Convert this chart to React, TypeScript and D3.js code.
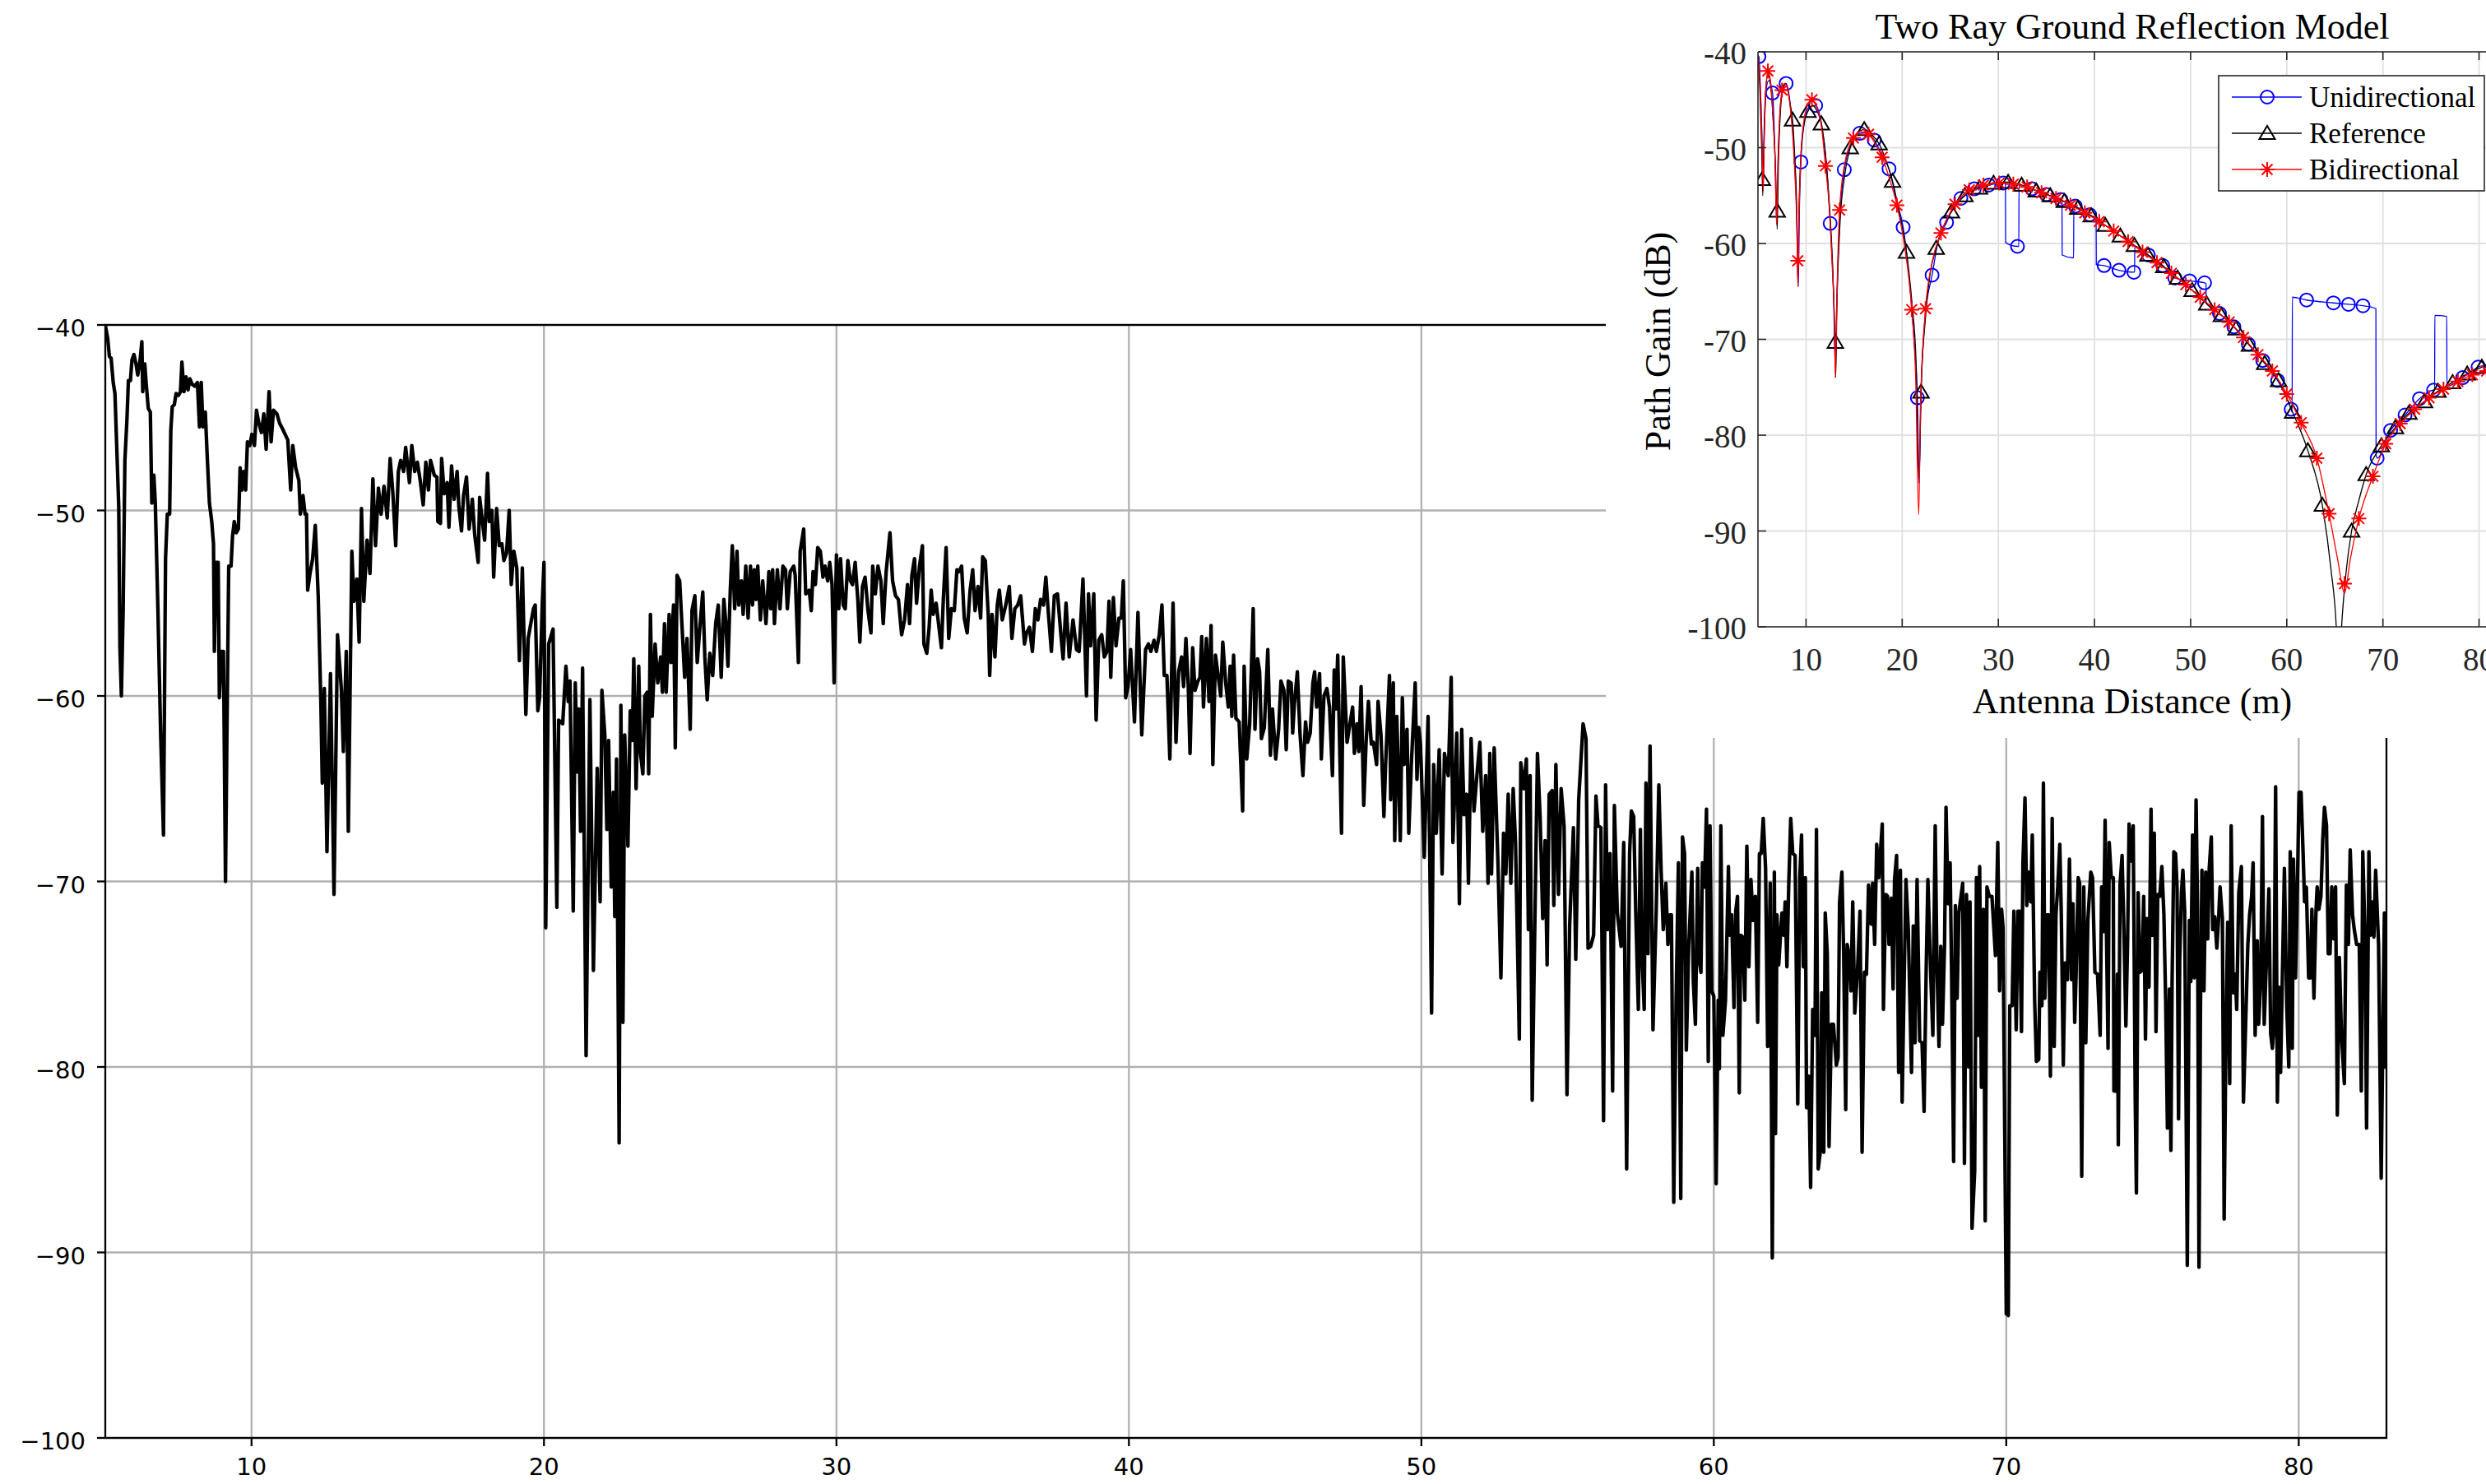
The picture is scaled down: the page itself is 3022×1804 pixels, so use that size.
import React from "react";
import * as d3 from "d3";

const SEG_05_13: [number, number][] = [
  [5.0,-40],[5.08,-40.7],[5.14,-41.7],[5.2,-41.8],[5.27,-43.1],[5.33,-43.7],[5.39,-46.5],[5.46,-49.8],[5.5,-57.4],[5.55,-60],
  [5.61,-55.4],[5.67,-47.3],[5.74,-45.1],[5.79,-43],[5.86,-43],[5.91,-41.9],[5.98,-41.6],[6.05,-42.1],[6.11,-42.7],[6.19,-41.9],
  [6.25,-40.9],[6.28,-43.6],[6.35,-42.1],[6.4,-43.2],[6.47,-44.5],[6.54,-44.7],[6.59,-49.6],[6.66,-48.1],[6.71,-49.6],[6.8,-55.4],
  [6.89,-61.9],[6.99,-67.5],[7.06,-52.6],[7.12,-50.2],[7.2,-50.2],[7.24,-45.7],[7.29,-44.4],[7.36,-44.3],[7.42,-43.7],[7.5,-43.8],
  [7.57,-43.6],[7.62,-42],[7.69,-43.6],[7.76,-42.8],[7.83,-43.5],[7.89,-42.9],[7.97,-43.2],[8.06,-43.3],[8.15,-43.1],[8.22,-45.5],
  [8.28,-43.1],[8.34,-45.5],[8.42,-44.7],[8.48,-46.9],[8.56,-49.6],[8.64,-50.6],[8.7,-51.8],[8.73,-57.6],[8.79,-52.8],[8.86,-52.8],
  [8.9,-60.1],[8.98,-57.6],[9.04,-57.6],[9.11,-70],[9.16,-61.9],[9.22,-53],[9.3,-53],[9.35,-51.4],[9.41,-50.6],[9.48,-51.2],
  [9.55,-51],[9.61,-47.7],[9.67,-48.9],[9.73,-47.9],[9.8,-48.9],[9.86,-46.3],[9.94,-46.5],[10.01,-45.9],[10.1,-46.5],[10.17,-44.6],
  [10.25,-45.3],[10.34,-45.8],[10.42,-44.8],[10.5,-46.7],[10.6,-43.6],[10.67,-46.3],[10.75,-44.6],[10.87,-44.8],[10.96,-45.3],[11.06,-45.6],
  [11.15,-45.9],[11.24,-46.2],[11.34,-48.9],[11.41,-46.5],[11.51,-47.7],[11.62,-48.4],[11.67,-50.2],[11.76,-49.2],[11.83,-50.2],[11.88,-50.2],
  [11.92,-54.3],[12.0,-53.4],[12.09,-52.6],[12.18,-50.8],[12.28,-54.6],[12.37,-60.3],[12.42,-64.7],[12.49,-59.6],[12.58,-68.4],[12.7,-58.8],
  [12.82,-70.7],
];
const SEG_13_20: [number, number][] = [
  [12.94,-56.7],[13.07,-59.6],[13.14,-63],[13.24,-57.6],[13.31,-67.3],[13.43,-52.2],[13.5,-54.9],[13.6,-53.7],[13.68,-57.1],[13.76,-49.9],
  [13.84,-54.9],[13.95,-51.6],[14.05,-53.4],[14.15,-48.3],[14.24,-51.9],[14.34,-48.8],[14.43,-50.2],[14.53,-48.7],[14.64,-50.4],[14.74,-47.2],
  [14.83,-49],[14.93,-51.9],[15.02,-47.9],[15.1,-47.3],[15.2,-47.9],[15.27,-46.6],[15.4,-48.5],[15.48,-46.5],[15.58,-47.9],[15.67,-47.4],
  [15.77,-48.4],[15.87,-49.7],[15.96,-47.4],[16.05,-48.9],[16.12,-47.3],[16.25,-48.1],[16.34,-48.2],[16.37,-50.6],[16.46,-50.7],[16.5,-47.2],
  [16.59,-49.1],[16.69,-48.5],[16.75,-50.9],[16.84,-47.6],[16.93,-49.4],[17.03,-47.9],[17.09,-49.8],[17.18,-51.1],[17.25,-49.2],[17.35,-48.2],
  [17.44,-51],[17.55,-49.4],[17.63,-51.3],[17.75,-52.8],[17.8,-49.3],[17.9,-50.7],[17.97,-51.6],[18.07,-48],[18.13,-50.6],[18.22,-50],
  [18.28,-53.6],[18.38,-49.9],[18.47,-51.9],[18.56,-51.8],[18.63,-52.7],[18.72,-52.3],[18.81,-50],[18.88,-54],[18.97,-52.2],[19.07,-53.1],
  [19.16,-58.1],[19.26,-53.1],[19.38,-61],[19.46,-56.9],[19.56,-56],[19.64,-55.3],[19.7,-55.1],[19.79,-60.8],[19.85,-60.1],[19.94,-55.1],
];
const SEG_20_38: [number, number][] = [
  [20.0,-52.8],[20.06,-72.5],[20.16,-57.2],[20.31,-56.4],[20.44,-71.4],[20.5,-61.3],[20.64,-61.5],[20.75,-58.4],[20.83,-60.3],[20.89,-59.2],
  [21.0,-71.6],[21.07,-59.3],[21.14,-64.1],[21.19,-60.7],[21.25,-67.3],[21.32,-58.5],[21.44,-79.4],[21.57,-60.2],[21.69,-74.8],[21.82,-63.9],
  [21.92,-71.1],[21.98,-59.7],[22.08,-62.1],[22.15,-67.2],[22.21,-62.4],[22.3,-70.3],[22.37,-65.2],[22.42,-71.9],[22.48,-63.4],[22.57,-84.1],
  [22.63,-60.5],[22.7,-77.6],[22.76,-62.1],[22.87,-68.1],[22.95,-60.8],[23.02,-62.4],[23.07,-58],[23.15,-65],[23.24,-58.4],[23.3,-63.1],
  [23.38,-64.2],[23.45,-60],[23.53,-59.8],[23.58,-64.2],[23.64,-55.6],[23.7,-61.1],[23.8,-57.2],[23.89,-59.3],[23.99,-57.9],[24.05,-59.8],
  [24.12,-56.1],[24.18,-59.8],[24.28,-55.6],[24.34,-58.2],[24.43,-55.1],[24.49,-62.8],[24.55,-53.5],[24.64,-53.8],[24.81,-59],[24.89,-56.9],
  [25.0,-61.8],[25.06,-55.4],[25.16,-54.6],[25.24,-58.2],[25.33,-56.3],[25.43,-54.4],[25.5,-57.9],[25.58,-60.2],[25.67,-57.7],[25.77,-58.9],
  [25.87,-56.1],[25.96,-55.1],[26.06,-59],[26.15,-54.8],[26.22,-56.1],[26.29,-58.4],[26.37,-54.3],[26.44,-51.9],[26.52,-55.3],[26.6,-52.2],
  [26.66,-55.1],[26.75,-53.8],[26.81,-55.6],[26.9,-53],[26.98,-55.8],[27.06,-53],[27.13,-55.1],[27.19,-53.2],[27.25,-54.8],[27.31,-53],
  [27.4,-55.9],[27.48,-53.8],[27.59,-56.1],[27.69,-53.3],[27.75,-55.3],[27.82,-53.2],[27.88,-56.1],[27.98,-53.2],[28.07,-55.3],[28.17,-53],
  [28.26,-53.2],[28.32,-55.3],[28.42,-53.3],[28.54,-53],[28.59,-53.5],[28.7,-58.2],[28.76,-52.2],[28.88,-51],[28.95,-54.5],[29.07,-54.3],
  [29.14,-55.4],[29.2,-53.3],[29.28,-54],[29.36,-52],[29.45,-52.2],[29.54,-53.6],[29.61,-53],[29.7,-53.8],[29.77,-52.8],[29.85,-54],
  [29.92,-59.3],[30.0,-52.4],[30.08,-55.3],[30.14,-52.6],[30.23,-55.1],[30.3,-55.3],[30.39,-52.7],[30.48,-53.8],[30.55,-54],[30.64,-52.8],
  [30.73,-54.8],[30.8,-57.1],[30.89,-54.1],[30.98,-53.6],[31.08,-55.4],[31.18,-56.6],[31.24,-53],[31.33,-54.5],[31.42,-53],[31.52,-53.8],
  [31.6,-56.1],[31.7,-53.3],[31.83,-51.2],[31.92,-53.8],[32.02,-54.6],[32.12,-54.8],[32.23,-56.7],[32.33,-55.9],[32.43,-54],[32.5,-56.1],
  [32.58,-53.5],[32.67,-52.6],[32.74,-55],[32.84,-53],[32.94,-51.9],[32.99,-57.2],[33.09,-57.7],[33.17,-56.3],[33.24,-54.3],[33.31,-55.6],
  [33.41,-55],[33.49,-56.1],[33.59,-57.4],[33.66,-54.6],[33.75,-52],[33.84,-56.9],[33.93,-55.3],[34.03,-55.4],[34.12,-53.2],[34.19,-53.3],
  [34.28,-53],[34.37,-55.8],[34.47,-56.6],[34.57,-54.3],[34.66,-53.2],[34.74,-55.4],[34.84,-54.1],[34.93,-55.8],[35.0,-52.5],[35.09,-52.7],
  [35.19,-55.6],[35.24,-58.9],[35.32,-55.6],[35.42,-57.9],[35.5,-55.1],[35.57,-54.3],[35.67,-55.9],[35.79,-55.1],[35.91,-54.1],[36.0,-56.9],
  [36.1,-55.3],[36.2,-55.1],[36.3,-54.6],[36.43,-57.2],[36.5,-56.6],[36.6,-56.3],[36.7,-57.6],[36.8,-55.3],[36.89,-55.9],[36.98,-54.8],
  [37.08,-55.1],[37.16,-53.6],[37.25,-55.6],[37.35,-57.6],[37.45,-54.6],[37.56,-54.5],[37.67,-56.6],[37.75,-58],[37.85,-55],
];
const SEG_38_57: [number, number][] = [
  [37.96,-57.9],[38.09,-55.9],[38.21,-57.5],[38.3,-57.6],[38.43,-53.7],[38.55,-60],[38.62,-54.5],[38.69,-57.3],[38.8,-54.5],[38.88,-61.3],
  [38.97,-57],[39.07,-56.7],[39.16,-57.9],[39.25,-57.6],[39.32,-54.9],[39.38,-59],[39.47,-54.7],[39.56,-57.3],[39.66,-55.8],[39.74,-55.8],
  [39.81,-53.8],[39.89,-60.1],[39.97,-59.5],[40.06,-57.5],[40.19,-61.4],[40.31,-55.5],[40.44,-62.1],[40.57,-57.5],[40.67,-57.2],[40.75,-57.6],
  [40.86,-57],[40.94,-57.6],[41.04,-56.7],[41.13,-55.1],[41.21,-58.9],[41.3,-58.9],[41.4,-63.4],[41.51,-55],[41.61,-62.5],[41.7,-58.7],
  [41.8,-57.9],[41.87,-59.5],[41.95,-56.9],[42.03,-59.5],[42.09,-63.1],[42.18,-57.4],[42.26,-59.7],[42.36,-59.2],[42.43,-59],[42.49,-56.8],
  [42.55,-60.6],[42.65,-56.9],[42.74,-60.3],[42.81,-56.2],[42.87,-63.7],[42.96,-57.8],[43.06,-59],[43.14,-60],[43.21,-57.1],[43.31,-59.3],
  [43.4,-60.6],[43.46,-58.4],[43.52,-61.1],[43.58,-57.8],[43.66,-61.2],[43.77,-61.4],[43.89,-66.2],[43.94,-58.4],[44.03,-63.4],[44.13,-61.5],
  [44.25,-55.3],[44.31,-61.8],[44.4,-58],[44.47,-58.7],[44.53,-62.3],[44.63,-61.7],[44.75,-57.5],[44.84,-63.2],[44.91,-60.7],[45.02,-63.4],
  [45.12,-61.8],[45.2,-59.2],[45.3,-59.7],[45.38,-62.9],[45.45,-59.2],[45.55,-59.3],[45.6,-62],[45.66,-60.4],[45.76,-58.7],[45.85,-62],
  [45.95,-64.3],[46.04,-61.4],[46.11,-62.5],[46.2,-62],[46.29,-59.3],[46.35,-58.7],[46.42,-60.6],[46.52,-58.8],[46.58,-63.4],[46.67,-60],
  [46.77,-59.6],[46.86,-60.6],[46.96,-64.3],[47.02,-58.6],[47.08,-60.7],[47.14,-57.8],[47.27,-67.4],[47.33,-57.9],[47.46,-62.5],[47.56,-61.5],
  [47.65,-60.6],[47.71,-63.1],[47.8,-61.5],[47.86,-63],[47.94,-59.5],[48.03,-65.9],[48.11,-62.5],[48.19,-60.3],[48.29,-62.6],[48.36,-62.5],
  [48.47,-63.7],[48.52,-60.3],[48.62,-62.1],[48.72,-66.5],[48.78,-63.6],[48.91,-58.9],[48.95,-65.6],[49.04,-59.3],[49.09,-67.8],[49.16,-61.1],
  [49.28,-67.8],[49.35,-60.1],[49.41,-63.7],[49.51,-61.8],[49.57,-67.4],[49.66,-63.6],[49.79,-59.3],[49.85,-64.5],[49.91,-61.7],[49.97,-62.6],
  [50.1,-68.7],[50.23,-61.1],[50.35,-77.1],[50.42,-63.7],[50.51,-67.4],[50.61,-62.9],[50.71,-69.6],[50.79,-63.1],[50.92,-64.3],[51.02,-59],
  [51.08,-67.9],[51.21,-62],[51.3,-71.2],[51.38,-61.8],[51.46,-66.4],[51.55,-65.3],[51.61,-70.1],[51.7,-62.3],[51.8,-66.2],[51.92,-63.9],
  [52.0,-62.5],[52.1,-67.3],[52.2,-64.3],[52.28,-70.1],[52.34,-63.1],[52.4,-69.6],[52.49,-62.8],[52.62,-69],[52.72,-75.2],[52.81,-67.4],
  [52.89,-69.6],[52.97,-65.3],[53.06,-70.1],[53.14,-65],[53.22,-67.9],[53.35,-78.5],[53.4,-63.6],[53.5,-65],[53.59,-63.4],[53.66,-72.6],
  [53.72,-64.3],[53.79,-81.8],[53.87,-73.4],[53.97,-63.1],[54.06,-66.5],[54.15,-72],[54.23,-67.8],[54.3,-74.5],[54.37,-65.3],[54.47,-65.1],
  [54.53,-71.3],[54.6,-63.7],[54.69,-70.7],[54.78,-65],[54.88,-67],[54.98,-81.5],[55.07,-72.4],[55.2,-67.1],[55.28,-74.2],[55.38,-65.6],
  [55.53,-61.5],[55.63,-62.3],[55.7,-73.6],[55.79,-73.5],[55.89,-72.9],[55.97,-65.4],[56.04,-67],[56.14,-67.1],[56.23,-82.9],[56.3,-64.8],
  [56.37,-72.6],[56.45,-68.5],[56.54,-81.3],[56.6,-65.9],[56.7,-71.7],[56.83,-73.5],[56.92,-67.9],[57.02,-85.5],
];
const SEG_57_70: [number, number][] = [
  [57.12,-68.5],[57.18,-66.2],[57.26,-66.5],[57.33,-71.6],[57.42,-76.9],[57.49,-67.2],[57.54,-73.9],[57.62,-76.9],[57.68,-64.7],[57.75,-73.9],
  [57.82,-62.7],[57.92,-78],[58.03,-71.6],[58.12,-64.8],[58.2,-69.5],[58.27,-72.6],[58.36,-70.1],[58.43,-73.4],[58.5,-71.8],[58.55,-71.8],
  [58.63,-87.3],[58.71,-76.4],[58.79,-69],[58.87,-87.1],[58.93,-67.6],[59.0,-68.5],[59.06,-79.1],[59.14,-73.6],[59.25,-69.5],[59.3,-75.4],
  [59.37,-77.7],[59.45,-69.3],[59.49,-74.1],[59.56,-74.9],[59.61,-69],[59.68,-70.3],[59.75,-66.1],[59.81,-79.7],[59.87,-67],[59.93,-75.9],
  [60.0,-76.2],[60.08,-86.3],[60.15,-76.4],[60.19,-80.1],[60.24,-67],[60.31,-78.3],[60.4,-76.4],[60.5,-69.2],[60.54,-72.9],[60.61,-71.8],
  [60.69,-76.8],[60.75,-71.6],[60.81,-70.8],[60.87,-81.4],[60.92,-72.9],[60.99,-73],[61.06,-76.4],[61.13,-68.1],[61.2,-74.6],[61.27,-69.9],
  [61.34,-72.1],[61.42,-70.8],[61.5,-77.6],[61.56,-68.5],[61.62,-68.5],[61.69,-66.6],[61.77,-69.3],[61.84,-78.9],[61.93,-70.1],[62.0,-90.3],
  [62.07,-69.5],[62.11,-83.6],[62.16,-71.8],[62.22,-74.5],[62.28,-72.9],[62.33,-71.7],[62.39,-72.9],[62.44,-71.1],[62.5,-74.6],[62.56,-70.3],
  [62.63,-66.6],[62.7,-68.5],[62.78,-68.6],[62.87,-82],[62.94,-69.8],[63.0,-67.5],[63.06,-74.6],[63.13,-69.8],[63.17,-82.2],[63.25,-80.5],
  [63.31,-86.5],[63.38,-76.9],[63.46,-78.3],[63.51,-67.2],[63.57,-85.5],[63.64,-84.6],[63.69,-76],[63.76,-84.6],[63.81,-71.7],[63.88,-73.9],
  [63.94,-84.3],[64.02,-77.7],[64.09,-77.7],[64.19,-79.9],[64.25,-79.5],[64.3,-71.1],[64.38,-69.5],[64.44,-73.9],[64.51,-82.3],[64.56,-73.4],
  [64.63,-74],[64.69,-75.9],[64.75,-71.1],[64.82,-77.1],[64.91,-74.9],[65.0,-71.6],[65.07,-84.6],[65.15,-74.9],[65.22,-75],[65.29,-70.2],
  [65.38,-72.3],[65.43,-70.1],[65.5,-73.4],[65.57,-68],[65.64,-69.8],[65.76,-66.9],[65.8,-76.9],[65.88,-70.7],[65.94,-70.8],[65.99,-73.4],
  [66.07,-70.9],[66.13,-75.8],[66.18,-69.9],[66.25,-68.6],[66.32,-80.3],[66.38,-69.4],[66.44,-81.9],[66.51,-75.2],[66.57,-69.9],[66.65,-72.6],
  [66.76,-80.3],[66.82,-72.4],[66.88,-78.7],[66.95,-69.9],[67.04,-78.6],[67.12,-78.7],[67.19,-82.4],[67.26,-74.9],[67.32,-69.9],[67.42,-75.2],
  [67.49,-78.3],[67.57,-67],[67.63,-74.6],[67.7,-78.9],[67.76,-73.5],[67.82,-77.7],[67.89,-73.4],[67.94,-66],[68.01,-71.2],[68.08,-69],
  [68.13,-74.9],[68.2,-85.1],[68.26,-71.3],[68.32,-76.3],[68.38,-71.7],[68.51,-70.1],[68.57,-85.2],[68.64,-70.7],[68.71,-80],[68.76,-71.1],
  [68.83,-88.7],[68.92,-85.6],[68.98,-69.8],[69.04,-78.3],[69.09,-69.2],[69.15,-81.1],[69.22,-71.5],[69.28,-88.3],[69.34,-70.3],[69.42,-70.8],
  [69.51,-70.8],[69.63,-74],[69.71,-67.9],[69.77,-75.9],[69.84,-71.5],[69.89,-72.5],[70.0,-93.3],
];
const SEG_70_83: [number, number][] = [
  [70.07,-93.4],[70.12,-76.7],[70.2,-76.7],[70.26,-71.6],[70.34,-78],[70.4,-71.6],[70.45,-71.6],[70.52,-78.1],[70.57,-69],[70.64,-65.5],
  [70.7,-71.3],[70.78,-69.5],[70.84,-71.1],[70.89,-67.5],[70.97,-76.4],[71.03,-79.7],[71.11,-79.6],[71.15,-74.9],[71.22,-76.7],[71.27,-64.7],
  [71.32,-76.3],[71.39,-71.8],[71.45,-71.8],[71.51,-80.5],[71.57,-66.6],[71.64,-78.9],[71.7,-71.8],[71.76,-70.3],[71.83,-68],[71.88,-71.6],
  [71.95,-79.9],[72.01,-74.4],[72.09,-75.3],[72.16,-68.8],[72.23,-75.3],[72.28,-71.2],[72.34,-77.6],[72.39,-74.9],[72.46,-69.8],[72.51,-70.1],
  [72.58,-85.9],[72.65,-70.3],[72.72,-78.7],[72.79,-72.1],[72.89,-69.5],[72.95,-69.8],[73.03,-74.9],[73.12,-75],[73.21,-78.3],[73.26,-70.3],
  [73.33,-72.7],[73.38,-66.7],[73.42,-72.1],[73.48,-79],[73.52,-67.9],[73.59,-69.8],[73.66,-69.8],[73.68,-81.3],[73.75,-81.3],[73.8,-75],
  [73.83,-84.2],[73.89,-70.2],[73.96,-68.6],[74.03,-73.1],[74.09,-77.8],[74.15,-73.1],[74.2,-66.9],[74.26,-68.9],[74.34,-67],[74.41,-81.8],
  [74.45,-86.8],[74.51,-70.6],[74.57,-74.9],[74.64,-74.8],[74.7,-70.8],[74.76,-78.5],[74.81,-72],[74.88,-75.7],[74.95,-66.1],[75.0,-72.9],
  [75.06,-67.4],[75.12,-78.1],[75.18,-70.7],[75.25,-70.8],[75.32,-69.2],[75.39,-71.8],[75.45,-76.4],[75.51,-83.3],[75.58,-75.8],[75.63,-84.5],
  [75.67,-75.4],[75.73,-68.4],[75.79,-68.5],[75.84,-70.3],[75.89,-82.8],[75.93,-74.3],[75.99,-70.6],[76.04,-69.4],[76.1,-71.6],[76.19,-90.7],
  [76.26,-72.1],[76.31,-75.4],[76.37,-67.5],[76.43,-75.2],[76.49,-65.6],[76.54,-71.5],[76.59,-90.8],[76.64,-76.9],[76.69,-69.4],[76.76,-75.9],
  [76.82,-69.5],[76.89,-73.1],[76.94,-69.3],[77.01,-67.6],[77.06,-72.6],[77.13,-71.9],[77.2,-73.6],[77.26,-72],[77.31,-70.3],[77.39,-72],
  [77.45,-88.2],[77.51,-78.5],[77.57,-72.2],[77.64,-80.9],[77.69,-67],[77.76,-76],[77.83,-75],[77.88,-76.9],[77.95,-70.6],[78.04,-69.2],
  [78.11,-81.9],[78.18,-78],[78.26,-73.4],[78.32,-71.8],[78.39,-70.8],[78.44,-69],[78.51,-78.3],[78.58,-73.2],[78.63,-77.7],[78.7,-75.4],
  [78.76,-66.5],[78.82,-77.7],[78.87,-75.4],[78.93,-72.9],[78.98,-70.4],[79.04,-78.2],[79.1,-79],[79.15,-78],[79.21,-64.9],[79.27,-81.9],
  [79.33,-75.7],[79.38,-80.3],[79.45,-74.3],[79.51,-69.3],[79.59,-76.7],[79.66,-80],[79.71,-68.4],[79.78,-79],[79.82,-68.8],[79.89,-75.2],
  [79.94,-71.6],[80.01,-65.2],[80.08,-65.2],[80.15,-68.5],[80.2,-71.1],[80.26,-70.3],[80.34,-75.2],[80.4,-75.2],[80.45,-71.5],[80.52,-76.3],
  [80.59,-71.6],[80.63,-70.3],[80.69,-71.5],[80.76,-70.8],[80.82,-67.8],[80.88,-66],[80.95,-67],[81.01,-73.9],[81.07,-73.9],[81.13,-70.3],
  [81.2,-73.1],[81.26,-70.3],[81.32,-82.6],[81.39,-74.1],[81.46,-78.2],[81.56,-80.9],[81.63,-70.2],[81.7,-73.4],[81.76,-68.3],[81.84,-71.8],
  [81.9,-72.6],[81.98,-73.4],[82.07,-73.4],[82.14,-81.3],[82.19,-68.4],[82.26,-72.6],[82.32,-83.3],[82.4,-68.4],[82.45,-72.9],[82.51,-71.1],
  [82.57,-73],[82.63,-69.4],[82.73,-73.4],[82.82,-86],[82.89,-76.4],[82.93,-71.7],[82.98,-80],
];

const X_TICKS = [10, 20, 30, 40, 50, 60, 70, 80];
const Y_TICKS = [-40, -50, -60, -70, -80, -90, -100];

// Inset: "Two Ray Ground Reflection Model"
const INSET_X_TICKS = [10, 20, 30, 40, 50, 60, 70, 80];
const INSET_Y_TICKS = [-40, -50, -60, -70, -80, -90, -100];

const UNI_LINE: [number, number][] = [
  [5.0,-40.4],[5.1,-40.5],[5.3,-45],[5.45,-50],[5.55,-54],[5.65,-49],[5.85,-44],[6.1,-43],[6.52,-44.3],[6.75,-50],
  [6.93,-57.5],[7.1,-51],[7.4,-45],[7.93,-43.3],[8.3,-45],[8.7,-49.5],[9.0,-56],[9.2,-64.5],[9.3,-57],[9.47,-51.5],
  [9.8,-47.5],[10.3,-45.8],[11.0,-45.6],[11.6,-47.5],[12.1,-51.5],[12.51,-57.9],[12.85,-65],[13.05,-73],[13.2,-66],[13.5,-57.5],
  [13.98,-52.3],[14.7,-49.6],[15.58,-48.5],[16.3,-48.4],[17.09,-49.2],[17.9,-50.8],[18.63,-52.2],[19.4,-55.5],[20.1,-58.3],[20.8,-64.5],
  [21.3,-71],[21.58,-76.1],[21.75,-85],[21.95,-76],[22.4,-67.5],[23.11,-63.3],[23.8,-59.5],[24.62,-57.8],[25.3,-56.2],[26.1,-55.3],
  [27.5,-54.3],[29.0,-53.9],[30.5,-53.7],[30.74,-53.7],[30.76,-59.9],[31.99,-60.3],[32.13,-60.3],[32.15,-53.9],[33.5,-54.3],[35.0,-54.9],
  [36.5,-55.4],[36.62,-55.5],[36.64,-61.2],[37.83,-61.5],[37.85,-56],[38.0,-56.1],[39.5,-57],[40.17,-57.4],[40.19,-62.2],[41.0,-62.3],
  [42.55,-62.8],[44.1,-63],[44.17,-62.9],[44.19,-60.3],[45.6,-61.2],[47.1,-62.3],[48.35,-63.6],[49.9,-63.9],[51.45,-64.1],[51.6,-64.2],
  [51.62,-66.2],[53.0,-67.3],[54.5,-68.7],[56.0,-70.5],[57.5,-72.2],[59.05,-74.3],[60.46,-77.3],[60.56,-77.6],[60.58,-65.6],[62.06,-65.9],
  [64.85,-66.2],[66.42,-66.35],[67.93,-66.5],[69.27,-66.8],[69.29,-82.1],[69.4,-82.4],[70.8,-79.5],[72.3,-77.9],[73.8,-76.2],[75.27,-75.3],
  [75.38,-75.3],[75.4,-67.5],[76.64,-67.6],[76.66,-74.9],[78.3,-74],[79.9,-72.9],[81.5,-72.5],[85,-71.8],
];
const UNI_MARKS: [number, number][] = [
  [5.1,-40.5],[6.52,-44.3],[7.93,-43.3],[9.47,-51.5],[11.0,-45.6],[12.51,-57.9],[13.98,-52.3],[15.58,-48.5],[17.09,-49.2],[18.63,-52.2],
  [20.1,-58.3],[21.58,-76.1],[23.11,-63.3],[24.62,-57.8],[26.1,-55.3],[27.5,-54.3],[29.0,-53.9],[30.5,-53.7],[31.99,-60.3],[33.5,-54.3],
  [35.0,-54.9],[36.5,-55.4],[38.0,-56.1],[39.5,-57],[41.0,-62.3],[42.55,-62.8],[44.1,-63],[45.6,-61.2],[47.1,-62.3],[48.35,-63.6],
  [49.9,-63.9],[51.45,-64.1],[53.0,-67.3],[54.5,-68.7],[56.0,-70.5],[57.5,-72.2],[59.05,-74.3],[60.46,-77.3],[62.06,-65.9],[64.85,-66.2],
  [66.42,-66.35],[67.93,-66.5],[69.4,-82.4],[70.8,-79.5],[72.3,-77.9],[73.8,-76.2],[75.27,-75.3],[78.3,-74],[79.9,-72.9],
];
const REF_LINE: [number, number][] = [
  [5.0,-40.6],[5.2,-44],[5.38,-50],[5.5,-55],[5.62,-49],[5.8,-44],[6.05,-42.3],[6.3,-43.4],[6.6,-47.5],[6.85,-53],
  [7.0,-58.5],[7.12,-52],[7.35,-46],[7.6,-43.8],[7.85,-43.3],[8.1,-44],[8.35,-45.5],[8.6,-47.1],[8.85,-51.5],[9.05,-57],
  [9.15,-64],[9.25,-57.5],[9.45,-51],[9.8,-47.5],[10.2,-46.2],[10.7,-45.6],[11.15,-46.2],[11.6,-47.5],[12.0,-50.5],[12.4,-55.5],
  [12.75,-62],[12.95,-68],[13.08,-74],[13.2,-67],[13.5,-58.5],[14.0,-53],[14.6,-50],[15.3,-48.6],[16.05,-48.1],[16.8,-48.6],
  [17.6,-49.6],[18.3,-51.3],[19.0,-53.5],[19.7,-56.8],[20.45,-60.9],[21.0,-66],[21.45,-72.5],[21.75,-84.5],[21.96,-75.5],[22.4,-68],
  [22.9,-63.2],[23.54,-60.5],[24.3,-58.2],[25.12,-56.7],[26.52,-55],[28.04,-54.2],[29.5,-53.7],[31.02,-53.6],[32.42,-53.9],[33.94,-54.5],
  [35.4,-55],[36.86,-55.6],[38.26,-56.3],[39.66,-57.1],[41.12,-58.1],[42.69,-59.2],[44.15,-60.2],[45.56,-61.2],[47.2,-62.4],[48.64,-63.6],
  [50.16,-64.9],[51.68,-66.3],[53.2,-67.5],[54.72,-68.9],[56.12,-70.6],[57.7,-72.5],[59.15,-74.3],[60.61,-77.6],[62.19,-81.6],[63.7,-87.3],
  [64.6,-94],[65.15,-100],[65.4,-106],[65.7,-100],[66.2,-94],[66.74,-90],[67.5,-86.8],[68.26,-84.1],[69.84,-81.1],[71.3,-79.2],
  [72.7,-77.7],[74.33,-76.5],[75.73,-75.4],[77.25,-74.5],[78.77,-73.6],[80.29,-72.9],[82.5,-72.3],[85,-71.8],
];
const REF_MARKS: [number, number][] = [
  [5.45,-53.3],[7.0,-56.6],[8.6,-47.1],[10.2,-46.2],[11.6,-47.5],[13.05,-70.3],[14.6,-50],[16.05,-48.1],[17.6,-49.6],[19.0,-53.5],
  [20.45,-60.9],[21.96,-75.5],[23.54,-60.5],[25.12,-56.7],[26.52,-55],[28.04,-54.2],[29.5,-53.7],[31.02,-53.6],[32.42,-53.9],[33.94,-54.5],
  [35.4,-55],[36.86,-55.6],[38.26,-56.3],[39.66,-57.1],[41.12,-58.1],[42.69,-59.2],[44.15,-60.2],[45.56,-61.2],[47.2,-62.4],[48.64,-63.6],
  [50.16,-64.9],[51.68,-66.3],[53.2,-67.5],[54.72,-68.9],[56.12,-70.6],[57.7,-72.5],[59.15,-74.3],[60.61,-77.6],[62.19,-81.6],[63.7,-87.3],
  [66.74,-90],[68.26,-84.1],[69.84,-81.1],[71.3,-79.2],[72.7,-77.7],[74.33,-76.5],[75.73,-75.4],[77.25,-74.5],[78.77,-73.6],[80.29,-72.9],
];
const BI_LINE: [number, number][] = [
  [5.0,-40.3],[5.15,-42],[5.35,-47],[5.5,-53],[5.55,-54.5],[5.65,-49],[5.85,-43.5],[6.03,-42],[6.3,-43],[6.55,-46.5],
  [6.8,-52],[6.93,-58],[7.08,-51.5],[7.3,-46],[7.5,-44],[7.75,-43.3],[8.0,-43.6],[8.3,-45.3],[8.6,-48.5],[8.85,-53],
  [9.05,-58.5],[9.15,-64.5],[9.25,-58],[9.45,-51.2],[9.8,-47],[10.2,-45.5],[10.6,-45],[11.1,-45.8],[11.6,-47.8],[12.02,-51.9],
  [12.4,-56],[12.75,-63],[12.95,-68],[13.05,-74],[13.2,-66],[13.49,-56.5],[14.0,-51.8],[14.93,-49],[15.6,-48.3],[16.5,-48.6],
  [17.2,-49.6],[17.91,-51],[18.7,-53.3],[19.45,-56],[20.2,-60],[20.99,-66.9],[21.4,-74],[21.72,-88.3],[21.9,-77],[22.43,-66.8],
  [23.1,-62],[24.03,-58.9],[25.5,-55.9],[26.98,-54.4],[28.45,-53.9],[30.09,-53.7],[31.56,-53.8],[33.0,-54.1],[34.5,-54.7],[36.0,-55.3],
  [37.5,-56],[39.0,-56.8],[40.5,-57.7],[42.0,-58.7],[43.5,-59.8],[45.0,-60.9],[46.5,-62],[48.0,-63.1],[49.5,-64.3],[51.0,-65.6],
  [52.5,-66.9],[54.0,-68.2],[55.5,-69.8],[57.0,-71.6],[58.5,-73.3],[60.0,-75.7],[61.5,-78.7],[63.13,-82.4],[64.4,-88.2],[65.3,-93],
  [66.0,-96.5],[66.6,-93],[67.5,-88.7],[68.96,-84.3],[70.3,-80.9],[71.8,-78.8],[73.3,-77.3],[74.8,-76.1],[76.3,-75.2],[77.8,-74.4],
  [79.3,-73.7],[80.8,-73.3],[82.5,-72.8],[85,-72.2],
];
const BI_MARKS: [number, number][] = [
  [6.03,-42],[7.5,-44],[9.14,-61.8],[10.61,-45],[12.02,-51.9],[13.49,-56.5],[14.93,-49],[16.5,-48.6],[17.91,-51],[19.45,-56],
  [20.99,-66.9],[22.43,-66.8],[24.03,-58.9],[25.5,-55.9],[26.98,-54.4],[28.45,-53.9],[30.09,-53.7],[31.56,-53.8],[33.0,-54.1],[34.5,-54.7],
  [36.0,-55.3],[37.5,-56],[39.0,-56.8],[40.5,-57.7],[42.0,-58.7],[43.5,-59.8],[45.0,-60.9],[46.5,-62],[48.0,-63.1],[49.5,-64.3],
  [51.0,-65.6],[52.5,-66.9],[54.0,-68.2],[55.5,-69.8],[57.0,-71.6],[58.5,-73.3],[60.0,-75.7],[61.5,-78.7],[63.13,-82.4],[64.4,-88.2],
  [66.0,-95.5],[67.5,-88.7],[68.96,-84.3],[70.3,-80.9],[71.8,-78.8],[73.3,-77.3],[74.8,-76.1],[76.3,-75.2],[77.8,-74.4],[79.3,-73.7],
  [80.8,-73.3],
];
const LEGEND_LABELS = ["Unidirectional", "Reference", "Bidirectional"];

const W = 3022;
const H = 1804;
const M = { left: 128, right: 2901, top: 395, bottom: 1748 };
const INSET = { x: 1952, y: 0, w: 1070, h: 897 };
const IM = { left: 2137, right: 3072, top: 63, bottom: 762 };

const BLUE = "#0000ff";
const RED = "#ff0000";
const AX = "#262626";
const SANS = "'DejaVu Sans', sans-serif";
const SERIF = "'Liberation Serif', 'Times New Roman', serif";

const fmtMinus = (v: number) => (v < 0 ? `\u2212${Math.abs(v)}` : `${v}`);

const Circle = ({ x, y }: { x: number; y: number }) => (
  <circle cx={x} cy={y} r={8} fill="none" stroke={BLUE} strokeWidth={2} />
);
const Tri = ({ x, y }: { x: number; y: number }) => (
  <path d={`M${x},${y - 9}L${x + 9.5},${y + 7}L${x - 9.5},${y + 7}Z`} fill="none" stroke="#000" strokeWidth={2} />
);
const Star = ({ x, y }: { x: number; y: number }) => {
  const r = 9;
  const d = r * 0.72;
  return (
    <path
      d={`M${x - r},${y}L${x + r},${y}M${x},${y - r}L${x},${y + r}M${x - d},${y - d}L${x + d},${y + d}M${x - d},${y + d}L${x + d},${y - d}`}
      stroke={RED}
      strokeWidth={2}
      fill="none"
    />
  );
};

export default function App() {
  const measured = [...SEG_05_13, ...SEG_13_20, ...SEG_20_38, ...SEG_38_57, ...SEG_57_70, ...SEG_70_83];

  const x = d3.scaleLinear().domain([5, 83]).range([M.left, M.right]);
  const y = d3.scaleLinear().domain([-100, -40]).range([M.bottom, M.top]);
  const line = d3.line<[number, number]>().x((d) => x(d[0])).y((d) => y(d[1]));

  const xi = d3.scaleLinear().domain([5, 85]).range([IM.left, IM.right]);
  const yi = d3.scaleLinear().domain([-100, -40]).range([IM.bottom, IM.top]);
  const lineI = d3
    .line<[number, number]>()
    .x((d) => xi(d[0]))
    .y((d) => yi(d[1]))
    .curve(d3.curveMonotoneX);

  const legendRows = [
    { label: LEGEND_LABELS[0], color: BLUE, Mark: Circle },
    { label: LEGEND_LABELS[1], color: "#000", Mark: Tri },
    { label: LEGEND_LABELS[2], color: RED, Mark: Star },
  ];

  return (
    <svg
      width={W}
      height={H}
      viewBox={`0 0 ${W} ${H}`}
      style={{ position: "absolute", left: 0, top: 0, display: "block", background: "#fff" }}
    >
      <rect x={0} y={0} width={W} height={H} fill="#fff" />
      <defs>
        <clipPath id="main-clip">
          <rect x={M.left} y={M.top} width={M.right - M.left} height={M.bottom - M.top} />
        </clipPath>
        <clipPath id="inset-clip">
          <rect x={INSET.x} y={INSET.y} width={INSET.w} height={INSET.h} />
        </clipPath>
        <clipPath id="inset-plot">
          <rect x={IM.left} y={IM.top} width={IM.right - IM.left} height={IM.bottom - IM.top} />
        </clipPath>
      </defs>

      {/* main chart: grid */}
      <g stroke="#b0b0b0" strokeWidth={2.3}>
        {X_TICKS.map((t) => (
          <line key={`gx${t}`} x1={x(t)} x2={x(t)} y1={M.top} y2={M.bottom} />
        ))}
        {Y_TICKS.map((t) => (
          <line key={`gy${t}`} x1={M.left} x2={M.right} y1={y(t)} y2={y(t)} />
        ))}
      </g>

      {/* measured series */}
      <path
        d={line(measured) ?? ""}
        fill="none"
        stroke="#000"
        strokeWidth={4.3}
        strokeLinejoin="round"
        strokeLinecap="square"
        clipPath="url(#main-clip)"
      />

      {/* spines and ticks */}
      <rect
        x={M.left}
        y={M.top}
        width={M.right - M.left}
        height={M.bottom - M.top}
        fill="none"
        stroke="#000"
        strokeWidth={2.3}
      />
      {X_TICKS.map((t) => (
        <g key={`tx${t}`}>
          <line x1={x(t)} x2={x(t)} y1={M.bottom} y2={M.bottom + 10} stroke="#000" strokeWidth={2.3} />
          <text x={x(t)} y={M.bottom + 45} textAnchor="middle" fontFamily={SANS} fontSize={29} fill="#000">
            {t}
          </text>
        </g>
      ))}
      {Y_TICKS.map((t) => (
        <g key={`ty${t}`}>
          <line x1={M.left - 10} x2={M.left} y1={y(t)} y2={y(t)} stroke="#000" strokeWidth={2.3} />
          <text x={M.left - 24} y={y(t) + 14} textAnchor="end" fontFamily={SANS} fontSize={29} fill="#000">
            {fmtMinus(t)}
          </text>
        </g>
      ))}

      {/* pasted figure: Two Ray Ground Reflection Model */}
      <g clipPath="url(#inset-clip)">
        <rect x={INSET.x} y={INSET.y} width={INSET.w} height={INSET.h} fill="#fff" />

        <g stroke="#e0e0e0" strokeWidth={1.8}>
          {INSET_X_TICKS.map((t) => (
            <line key={`igx${t}`} x1={xi(t)} x2={xi(t)} y1={IM.top} y2={IM.bottom} />
          ))}
          {INSET_Y_TICKS.map((t) => (
            <line key={`igy${t}`} x1={IM.left} x2={IM.right} y1={yi(t)} y2={yi(t)} />
          ))}
        </g>

        <g clipPath="url(#inset-plot)">
          <path d={lineI(UNI_LINE) ?? ""} fill="none" stroke={BLUE} strokeWidth={1.3} />
          {UNI_MARKS.map((d, i) => (
            <Circle key={`u${i}`} x={xi(d[0])} y={yi(d[1])} />
          ))}
          <path d={lineI(REF_LINE) ?? ""} fill="none" stroke="#000" strokeWidth={1.3} />
          {REF_MARKS.map((d, i) => (
            <Tri key={`r${i}`} x={xi(d[0])} y={yi(d[1])} />
          ))}
          <path d={lineI(BI_LINE) ?? ""} fill="none" stroke={RED} strokeWidth={1.3} />
          {BI_MARKS.map((d, i) => (
            <Star key={`b${i}`} x={xi(d[0])} y={yi(d[1])} />
          ))}
        </g>

        {/* axes box and inward ticks */}
        <g stroke={AX} strokeWidth={1.6}>
          <line x1={IM.left} x2={IM.right} y1={IM.top} y2={IM.top} />
          <line x1={IM.left} x2={IM.right} y1={IM.bottom} y2={IM.bottom} />
          <line x1={IM.left} x2={IM.left} y1={IM.top} y2={IM.bottom} />
          {INSET_X_TICKS.map((t) => (
            <g key={`itx${t}`}>
              <line x1={xi(t)} x2={xi(t)} y1={IM.bottom} y2={IM.bottom - 10} />
              <line x1={xi(t)} x2={xi(t)} y1={IM.top} y2={IM.top + 10} />
            </g>
          ))}
          {INSET_Y_TICKS.map((t) => (
            <line key={`ity${t}`} x1={IM.left} x2={IM.left + 10} y1={yi(t)} y2={yi(t)} />
          ))}
        </g>
        {INSET_X_TICKS.map((t) => (
          <text key={`ilx${t}`} x={xi(t)} y={IM.bottom + 53} textAnchor="middle" fontFamily={SERIF} fontSize={39} fill={AX}>
            {t}
          </text>
        ))}
        {INSET_Y_TICKS.map((t) => (
          <text key={`ily${t}`} x={IM.left - 14} y={yi(t) + 15} textAnchor="end" fontFamily={SERIF} fontSize={39} fill={AX}>
            {`${t}`}
          </text>
        ))}
        <text x={2592} y={47} textAnchor="middle" fontFamily={SERIF} fontSize={44} fill="#000">
          Two Ray Ground Reflection Model
        </text>
        <text x={2592} y={867} textAnchor="middle" fontFamily={SERIF} fontSize={44} fill="#000">
          Antenna Distance (m)
        </text>
        <text
          transform={`translate(2030,415) rotate(-90)`}
          textAnchor="middle"
          fontFamily={SERIF}
          fontSize={44}
          fill="#000"
        >
          Path Gain (dB)
        </text>

        {/* legend */}
        <rect x={2697} y={92} width={323} height={140} fill="#fff" stroke={AX} strokeWidth={1.6} />
        {legendRows.map(({ label, color, Mark }, i) => {
          const ry = 118 + i * 44;
          return (
            <g key={label}>
              <line x1={2713} x2={2798} y1={ry} y2={ry} stroke={color} strokeWidth={1.3} />
              <Mark x={2756} y={ry} />
              <text x={2807} y={ry + 12} fontFamily={SERIF} fontSize={35} fill="#000">
                {label}
              </text>
            </g>
          );
        })}
      </g>
    </svg>
  );
}
